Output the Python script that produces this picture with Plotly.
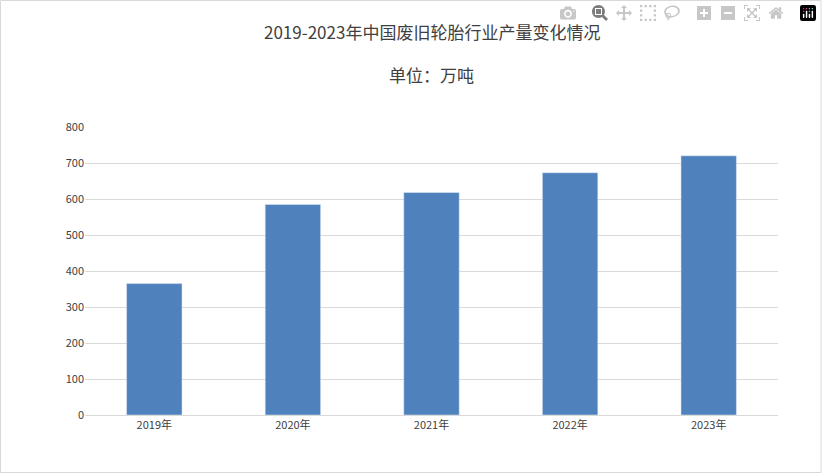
import plotly.graph_objects as go

categories = ["2019年", "2020年", "2021年", "2022年", "2023年"]
values = [365, 585, 618, 673, 720]
y_ticks = [0, 100, 200, 300, 400, 500, 600, 700, 800]

fig = go.Figure(go.Bar(x=categories, y=values, marker_color="#4F81BD", width=0.4))
ph = 473 - 127 - 58
fig.update_layout(
    width=822, height=473,
    margin=dict(l=85, r=44, t=127, b=58),
    paper_bgcolor="white", plot_bgcolor="white",
    font=dict(family="Noto Sans CJK SC", size=11, color="#404040"),
    showlegend=False,
    annotations=[
        dict(text="2019-2023年中国废旧轮胎行业产量变化情况", x=0.5, y=1 + (127 - 17) / ph,
             xref="paper", yref="paper", showarrow=False, font=dict(size=17, color="#404040")),
        dict(text="单位：万吨", x=0.5, y=1 + (127 - 60) / ph, xref="paper", yref="paper",
             showarrow=False, font=dict(size=17, color="#404040")),
    ],
    shapes=[dict(type="rect", xref="paper", yref="paper", x0=-84.5/693, x1=1 + 43/693,
                 y0=-57.5/ph, y1=1 + 126.5/ph, line=dict(color="#D9D9D9", width=1))],
)
fig.update_yaxes(range=[0, 800], tickvals=y_ticks, gridcolor="#D9D9D9", zeroline=False,
                 showline=False, ticks="", ticklen=0)
fig.update_xaxes(showline=True, linecolor="#D9D9D9", ticks="")
fig.write_html("out.html", post_script="document.body.style.margin='0';")
